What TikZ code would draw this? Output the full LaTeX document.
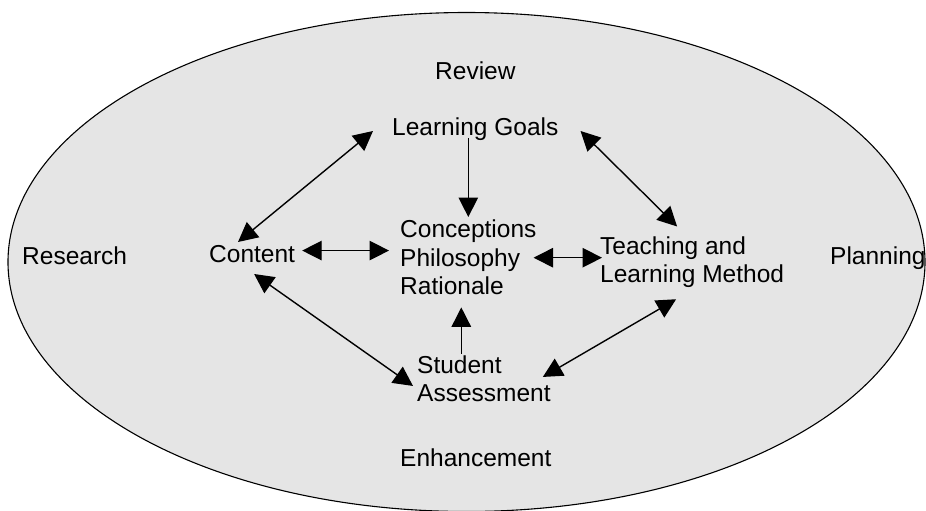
\documentclass[tikz,border=0pt]{standalone}
\usepackage{fontspec}
\setmainfont{Liberation Sans}
\usetikzlibrary{arrows.meta}

\definecolor{shade}{gray}{0.9}

\begin{document}
\begin{tikzpicture}[x=1pt,y=-1pt]

\tikzset{word/.style = {inner sep=0pt,font=\fontsize{24.5}{28.5}\selectfont}}
\tikzset{block/.style = {word,align=left,anchor=north west}}
\tikzset{both/.style = {{Triangle[length=19.5pt,width=19.5pt]}-{Triangle[length=19.5pt,width=19.5pt]},line width=1.4pt}}
\tikzset{one/.style = {-{Triangle[length=19.5pt,width=19.5pt]},line width=1.4pt}}

\useasboundingbox (0,0) rectangle (926,511);
\clip (0,0) rectangle (926,511);
\draw[fill=shade,line width=1.1pt] (466.5,262) ellipse [x radius=458.5, y radius=249.5];

\node[word,anchor=base west] (review) at (435,79) {Review};
\node[word,anchor=base west] (goals) at (392,135) {Learning Goals};
\node[block] (ideas) at (400,220) {Conceptions\\Philosophy\\Rationale};
\node[word,anchor=base west] (content) at (209,262) {Content};
\node[word,anchor=base west] (research) at (22,264) {Research};
\node[word,anchor=base west] (planning) at (830,264) {Planning};
\node[block] (method) at (600,236.5) {Teaching and\\Learning Method};
\node[block] (assess) at (417,355.5) {Student\\Assessment};
\node[word,anchor=base west] (enhance) at (400,466) {Enhancement};

\draw[both] ([shift={(-19,-4)}]goals.base west) -- ([shift={(29,-20)}]content.base west);
\draw[one] ([shift={(0,-2)}]goals.south -| ideas.north) -- ([shift={(0,-3)}]ideas.north);
\draw[both] ([shift={(22,-4)}]goals.base east) -- ([shift={(-15,-10)}]method.north);
\draw[both] ([shift={(7,-3)}]content.east) -- ([shift={(-11,-3)}]content.east -| ideas.west);
\draw[both] ([shift={(-3,0)}]ideas.east) -- ([shift={(2,0)}]ideas.east -| method.west);
\draw[both] ([shift={(2,12)}]content.base) -- ([shift={(-4,7)}]assess.west);
\draw[one] ([shift={(-7,-2)}]assess.north -| ideas.south) -- ([shift={(-7,12)}]ideas.south);
\draw[both] ([shift={(-8,-2)}]assess.east) -- ([shift={(-16,11)}]method.south);

\end{tikzpicture}
\end{document}
